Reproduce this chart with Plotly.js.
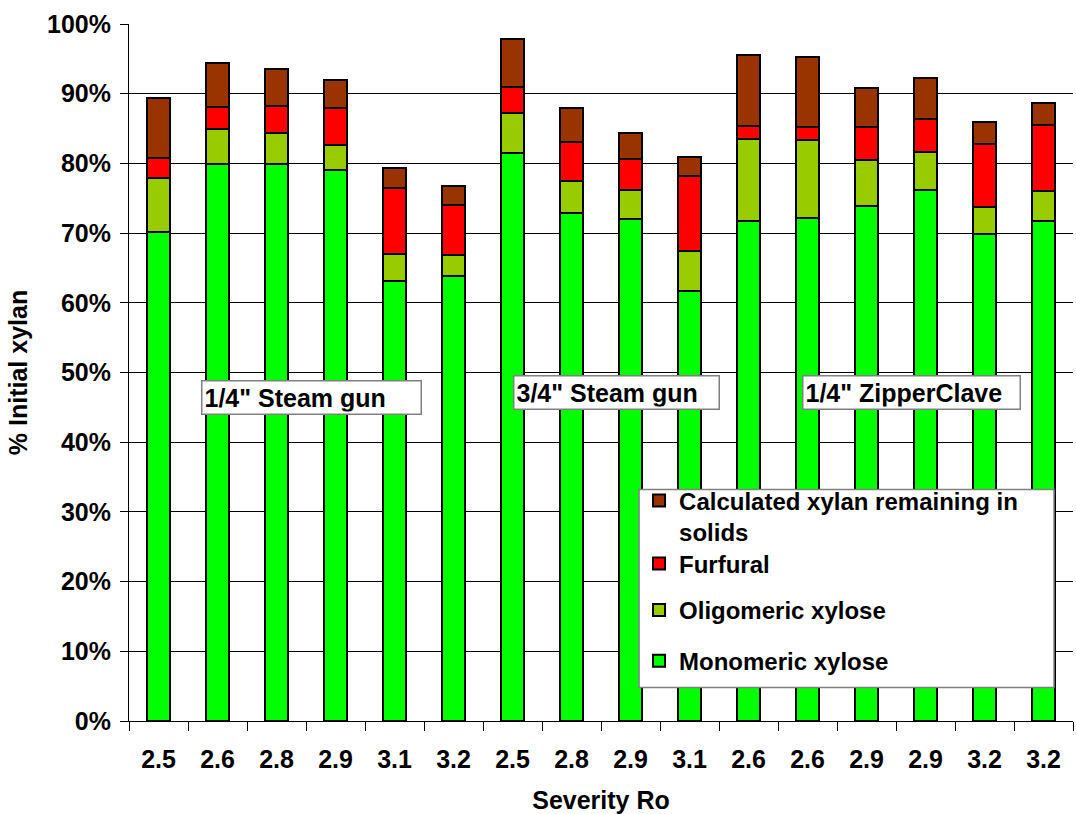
<!DOCTYPE html>
<html>
<head>
<meta charset="utf-8">
<script src="https://cdn.plot.ly/plotly-3.0.1.min.js"></script>
<style>html,body{margin:0;padding:0;background:#fff;}#chart{width:1076px;height:814px;}</style>
</head>
<body>
<div id="chart"></div>
<script>
// Severity (log Ro) for each run, left to right
const severityLabels = ["2.5","2.6","2.8","2.9","3.1","3.2","2.5","2.8","2.9","3.1","2.6","2.6","2.9","2.9","3.2","3.2"];
// Stacked components, % of initial xylan
const monomericXylose = [70.1,79.9,79.9,79.1,63.2,63.9,81.5,72.9,72.0,61.7,71.7,72.1,73.9,76.2,69.8,71.7];
const oligomericXylose = [7.8,5.0,4.4,3.5,3.8,3.0,5.8,4.6,4.2,5.8,11.8,11.2,6.6,5.4,3.9,4.4];
const furfural = [2.9,3.2,4.0,5.4,9.5,7.2,3.7,5.5,4.4,10.7,1.8,1.9,4.7,4.8,9.1,9.4];
const xylanRemaining = [8.6,6.3,5.3,3.9,2.9,2.7,6.8,5.0,3.8,2.7,10.3,10.1,5.6,5.8,3.1,3.1];
const seriesNames = ["Monomeric xylose","Oligomeric xylose","Furfural","Calculated xylan remaining in<br>solids"];
const seriesColors = ["#00FF00","#99CC00","#FF0000","#993300"];
const groupLabels = ["1/4\" Steam gun","3/4\" Steam gun","1/4\" ZipperClave"];
const yTicks = [0,10,20,30,40,50,60,70,80,90,100];

const pos = severityLabels.map((_, i) => i);
const FONT = {family: "Liberation Sans, Arial, sans-serif", size: 25, color: "#000", weight: 700};
const LFONT = Object.assign({}, FONT, {size: 24});
const legendIds = ["legend4","legend3","legend2","legend"];
const seriesValues = [monomericXylose, oligomericXylose, furfural, xylanRemaining];

const traces = seriesValues.map((vals, k) => ({
  type: "bar",
  x: pos,
  y: vals,
  name: seriesNames[k],
  legend: legendIds[k],
  marker: {color: seriesColors[k], line: {color: "#000", width: 2}},
  width: 0.4,
  hoverinfo: "y+name"
}));

function legendAt(yc) {
  return {
    x: 0.5403, xanchor: "left", y: yc, yanchor: "middle",
    bgcolor: "rgba(0,0,0,0)", borderwidth: 0,
    font: LFONT, valign: "top", itemclick: false, itemdoubleclick: false
  };
}

const layout = {
  width: 1076, height: 814,
  margin: {l: 129, r: 3, t: 24, b: 93, pad: 0},
  paper_bgcolor: "#fff", plot_bgcolor: "#fff",
  barmode: "stack",
  showlegend: true,
  font: FONT,
  xaxis: {
    range: [-0.5, 15.5], tickmode: "array", tickvals: pos, ticktext: severityLabels,
    ticks: "", showgrid: false, zeroline: false,
    showline: true, linecolor: "#000", linewidth: 1,
    tickfont: FONT, ticklabelstandoff: 16,
    minor: {tickmode: "linear", tick0: -0.5, dtick: 1, ticks: "outside", ticklen: 9, tickcolor: "#000", tickwidth: 1, showgrid: false},
    title: {text: "Severity Ro", font: FONT, standoff: 27},
    fixedrange: true
  },
  yaxis: {
    range: [0, 100], tickmode: "array", tickvals: yTicks, ticktext: yTicks.map(v => v + "%"),
    ticks: "outside", ticklen: 8, tickcolor: "#000", tickwidth: 1,
    showgrid: true, gridcolor: "#000", gridwidth: 1,
    zeroline: false, showline: true, linecolor: "#000", linewidth: 1,
    tickfont: FONT, ticklabelstandoff: 4,
    title: {text: "% Initial xylan", font: FONT, standoff: 12},
    fixedrange: true
  },
  legend: legendAt(0.2935),
  legend2: legendAt(0.2255),
  legend3: legendAt(0.1588),
  legend4: legendAt(0.0857),
  shapes: [{
    type: "rect", xref: "paper", yref: "paper",
    x0: 0.5403, x1: 0.9799, y0: 0.0482, y1: 0.3323,
    fillcolor: "#fff", line: {color: "#808080", width: 1.5}, layer: "above"
  }],
  annotations: [
    {text: groupLabels[0], x: 0.0763, y: 0.4887},
    {text: groupLabels[1], x: 0.4071, y: 0.4958},
    {text: groupLabels[2], x: 0.7126, y: 0.4958}
  ].map((a, i) => Object.assign({
    xref: "paper", yref: "paper", xanchor: "left", yanchor: "top",
    showarrow: false, font: FONT, align: "left",
    bgcolor: "#fff", bordercolor: "#808080", borderwidth: 1.5, borderpad: 2,
    width: [214, 200, 212][i], height: 28
  }, a))
};

Plotly.newPlot("chart", traces, layout, {displayModeBar: false, staticPlot: true});
</script>
</body>
</html>
